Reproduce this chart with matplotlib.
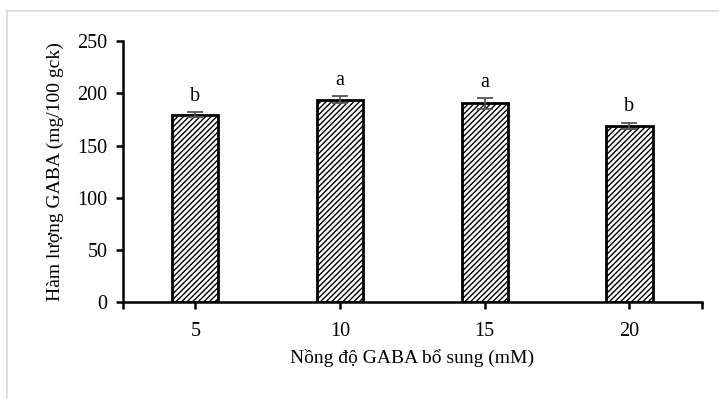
import matplotlib.pyplot as plt
import matplotlib.lines as mlines

plt.rcParams['font.family'] = ['Liberation Serif', 'DejaVu Serif']
plt.rcParams['hatch.color'] = '#9a9a9a'
plt.rcParams['hatch.linewidth'] = 1.0

# du lieu
nong_do = ['5', '10', '15', '20']
gaba = [179.5, 194.0, 190.5, 169.0]
sai_so = [2.5, 3.5, 5.0, 3.0]
chu = ['b', 'a', 'a', 'b']

fig = plt.figure(figsize=(7.19, 3.99), dpi=100)
ax = fig.add_axes([0.171, 0.242, 0.805, 0.655])

x = range(len(nong_do))
ax.bar(x, gaba, width=0.32, color='white', edgecolor='black', linewidth=2,
       hatch='//////', zorder=2)
ax.errorbar(x, gaba, yerr=sai_so, fmt='none', ecolor='#555555',
            elinewidth=1.3, capsize=6, capthick=1.3, zorder=3)
for i in x:
    ax.text(i, gaba[i] + sai_so[i] + 6, chu[i], ha='center', va='bottom', fontsize=14.5)

ax.set_xlim(-0.5, 3.5)
ax.set_ylim(0, 250)
ax.set_xticks(list(x))
ax.set_xticklabels(nong_do)
ax.set_xticks([-0.5, 3.5], minor=True)
ax.set_yticks([0, 50, 100, 150, 200, 250])

ax.spines['top'].set_visible(False)
ax.spines['right'].set_visible(False)
ax.spines['left'].set_linewidth(1.8)
ax.spines['bottom'].set_linewidth(1.8)
ax.tick_params(axis='both', which='both', direction='out', length=5, width=1.8,
               labelsize=14.5)
ax.tick_params(axis='x', pad=9)
ax.tick_params(axis='y', pad=6)

ax.set_xlabel('Nồng độ GABA bổ sung (mM)', fontsize=14, labelpad=6)
ax.set_ylabel('Hàm lượng GABA (mg/100 gck)', fontsize=14, labelpad=10)

# vien khung bieu do
fig.add_artist(mlines.Line2D([7 / 719, 7 / 719], [0, 1 - 11 / 399],
                             color='#d9d9d9', linewidth=1.2))
fig.add_artist(mlines.Line2D([7 / 719, 1], [1 - 11 / 399, 1 - 11 / 399],
                             color='#d9d9d9', linewidth=1.2))

fig.savefig('out.png', dpi=100)
